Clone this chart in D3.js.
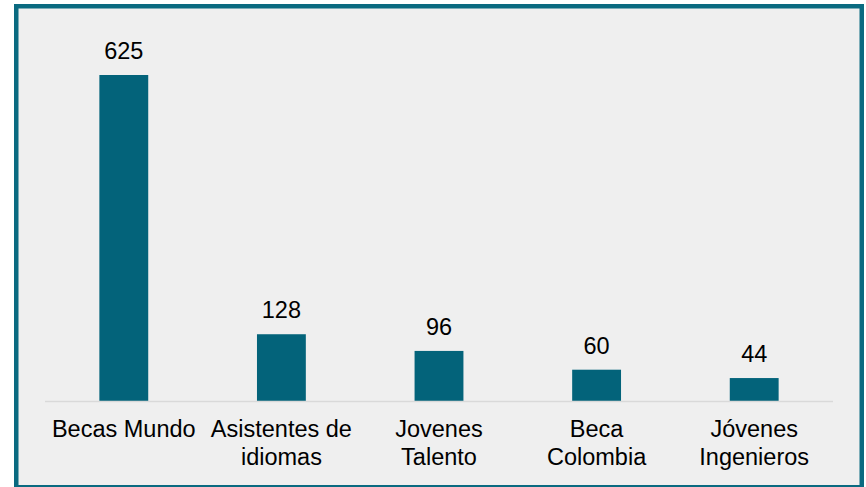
<!DOCTYPE html>
<html>
<head>
<meta charset="utf-8">
<script src="https://cdn.jsdelivr.net/npm/d3@7"></script>
<style>
  body { margin: 0; background: #ffffff; }
  svg { display: block; }
</style>
</head>
<body>
<div id="chart"></div>
<script>
// data
const categories = ["Becas Mundo", "Asistentes de idiomas", "Jovenes Talento", "Beca Colombia", "Jóvenes Ingenieros"]
const labelLines = [["Becas Mundo"], ["Asistentes de", "idiomas"], ["Jovenes", "Talento"], ["Beca", "Colombia"], ["Jóvenes", "Ingenieros"]]
const values = [625, 128, 96, 60, 44]

const barColor = "#03637a"
const frameColor = "#0a6a80"

const W = 866, H = 487
const plot = { left: 45, right: 833, top: 75, bottom: 401 }

const svg = d3.select("#chart")
  .append("svg")
  .attr("width", W)
  .attr("height", H)

// frame
svg.append("rect")
  .attr("x", 16.25)
  .attr("y", 6.25)
  .attr("width", 845.5)
  .attr("height", 481)
  .attr("fill", "#efefef")
  .attr("stroke", frameColor)
  .attr("stroke-width", 4.5)

const x = d3.scaleBand()
  .domain(categories)
  .range([plot.left, plot.right])
  .paddingInner(0.69)
  .paddingOuter(0.345)

const y = d3.scaleLinear()
  .domain([0, 625])
  .range([plot.bottom, plot.top])

// bars
svg.selectAll(".bar")
  .data(values)
  .join("rect")
  .attr("class", "bar")
  .attr("x", (d, i) => x(categories[i]))
  .attr("y", d => y(d))
  .attr("width", x.bandwidth())
  .attr("height", d => y(0) - y(d))
  .attr("fill", barColor)

// baseline
svg.append("line")
  .attr("x1", plot.left)
  .attr("x2", plot.right)
  .attr("y1", y(0) + 0.5)
  .attr("y2", y(0) + 0.5)
  .attr("stroke", "#d9d9d9")
  .attr("stroke-width", 1.5)

// value labels
svg.selectAll(".val")
  .data(values)
  .join("text")
  .attr("class", "val")
  .attr("x", (d, i) => x(categories[i]) + x.bandwidth() / 2)
  .attr("y", d => y(d) - 16)
  .attr("text-anchor", "middle")
  .attr("font-family", "Liberation Sans, Arial, sans-serif")
  .attr("font-size", 23.5)
  .attr("fill", "#000")
  .text(d => d)

// category labels
const cat = svg.selectAll(".cat")
  .data(categories)
  .join("text")
  .attr("class", "cat")
  .attr("text-anchor", "middle")
  .attr("font-family", "Liberation Sans, Arial, sans-serif")
  .attr("font-size", 23.5)
  .attr("fill", "#000")

cat.selectAll("tspan")
  .data((d, i) => labelLines[i].map(t => ({ t, cx: x(d) + x.bandwidth() / 2 })))
  .join("tspan")
  .attr("x", d => d.cx)
  .attr("y", (d, j) => 437 + j * 28)
  .text(d => d.t)
</script>
</body>
</html>
